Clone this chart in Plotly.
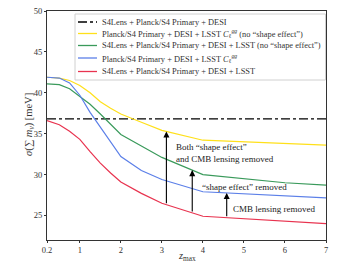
import numpy as np
import plotly.graph_objects as go

z = [0.2, 0.5, 0.75, 1.0, 1.25, 1.5, 1.75, 2.0, 2.5, 3.0, 4.0, 5.0, 6.0, 7.0]
baseline = 36.8
yellow = [41.9, 41.8, 41.5, 40.9, 40.0, 38.9, 38.1, 37.4, 36.4, 35.4, 34.2, 34.0, 33.8, 33.6]
green = [41.1, 41.0, 40.5, 39.6, 38.6, 37.4, 36.1, 34.9, 33.5, 32.1, 30.0, 29.5, 29.0, 28.7]
blue = [41.9, 41.8, 41.2, 39.7, 37.6, 35.8, 34.0, 32.2, 30.5, 29.4, 27.9, 27.65, 27.4, 27.15]
red = [36.6, 36.1, 35.3, 34.3, 32.8, 31.4, 30.2, 29.1, 27.7, 26.5, 24.9, 24.6, 24.3, 24.0]

names = [
    "S4Lens + Planck/S4 Primary + DESI",
    "Planck/S4 Primary + DESI + LSST <i>C</i><sub>ℓ</sub><sup><i>gg</i></sup> (no “shape effect”)",
    "S4Lens + Planck/S4 Primary + DESI + LSST (no “shape effect”)",
    "Planck/S4 Primary + DESI + LSST <i>C</i><sub>ℓ</sub><sup><i>gg</i></sup>",
    "S4Lens + Planck/S4 Primary + DESI + LSST",
]
colors = ["#000000", "#FFE01A", "#3A9A5B", "#5B7FE8", "#E8334F"]
dashes = ["dashdot", "solid", "solid", "solid", "solid"]

arrow_x = [3.11, 3.74, 4.58]
arrow_labels = ["Both “shape effect”<br>and CMB lensing removed", "“shape effect” removed", "CMB lensing removed"]

x_ticks = [0.2, 1, 2, 3, 4, 5, 6, 7]
y_ticks = [25, 30, 35, 40, 45, 50]

font = "Liberation Serif"
fig = go.Figure()
fig.add_trace(go.Scatter(x=[z[0], z[-1]], y=[baseline, baseline], mode="lines", name=names[0],
                         line=dict(color=colors[0], width=1.2, dash=dashes[0])))
for name, c, ys in zip(names[1:], colors[1:], [yellow, green, blue, red]):
    fig.add_trace(go.Scatter(x=z, y=ys, mode="lines", name=name, line=dict(color=c, width=1.2)))

# arrows
pairs = [(red, yellow), (red, green), (red, blue)]
for ax_, (lo, hi) in zip(arrow_x, pairs):
    y0 = float(np.interp(ax_, z, lo))
    y1 = float(np.interp(ax_, z, hi))
    fig.add_annotation(x=ax_, y=y1, ax=ax_, ay=y0, xref="x", yref="y", axref="x", ayref="y",
                       showarrow=True, arrowhead=2, arrowsize=1.1, arrowwidth=1.1, arrowcolor="black", text="")

label_pos = [(3.29, 32.6), (3.92, 28.5), (4.68, 25.8)]
for (lx, ly), t in zip(label_pos, arrow_labels):
    fig.add_annotation(x=lx, y=ly, xref="x", yref="y", text=t, showarrow=False, xanchor="left",
                       align="left", font=dict(family=font, size=9, color="#222"))

# page body has an 8px margin; plot area on screen: x 47..326, y 11..240
def px_x(p):
    return (p - 47) / 279.0

def px_y(p):
    return 1 - (p - 11) / 229.0

fig.add_shape(type="rect", xref="paper", yref="paper", x0=px_x(75), x1=px_x(325.5), y0=px_y(80), y1=px_y(14),
              line=dict(color="#d0d0d0", width=1), fillcolor="white", layer="above")
entry_py = [22, 33.5, 45.5, 58, 71.5]
for py, name, c, d in zip(entry_py, names, colors, dashes):
    fig.add_shape(type="line", xref="paper", yref="paper", x0=px_x(78), x1=px_x(97), y0=px_y(py), y1=px_y(py),
                  line=dict(color=c, width=1.3, dash=d), layer="above")
    fig.add_annotation(x=px_x(100), y=px_y(py), xref="paper", yref="paper", text=name, showarrow=False,
                       xanchor="left", yanchor="middle", font=dict(family=font, size=8.4, color="#333"))

# axis titles
fig.add_annotation(x=0.5, y=px_y(256.5), xref="paper", yref="paper", text="<i>z</i><sub>max</sub>",
                   showarrow=False, xanchor="center", yanchor="middle", font=dict(family=font, size=10.5, color="#333"))
fig.add_annotation(x=px_x(29), y=px_y(125), xref="paper", yref="paper",
                   text="<i>σ</i>(∑ <i>m</i><sub><i>ν</i></sub>) [meV]", textangle=-90,
                   showarrow=False, xanchor="center", yanchor="middle", font=dict(family=font, size=10.5, color="#333"))

axis_common = dict(showline=True, linecolor="#333", linewidth=1, mirror=True, ticks="outside",
                   ticklen=2, tickcolor="#333", showgrid=False, zeroline=False, automargin=False,
                   ticklabeloverflow="allow",
                   tickfont=dict(family=font, size=8.5, color="#333"))
fig.update_xaxes(range=[0.2, 7], tickvals=x_ticks, ticktext=[str(v) for v in x_ticks], **axis_common)
fig.update_yaxes(range=[22, 50], tickvals=y_ticks, **axis_common)

fig.update_layout(
    width=352, height=263, margin=dict(l=39, r=34, t=3, b=31),
    plot_bgcolor="white", paper_bgcolor="white",
    font=dict(family=font, color="#333"),
    showlegend=False,
)
fig.write_html("out.html")
